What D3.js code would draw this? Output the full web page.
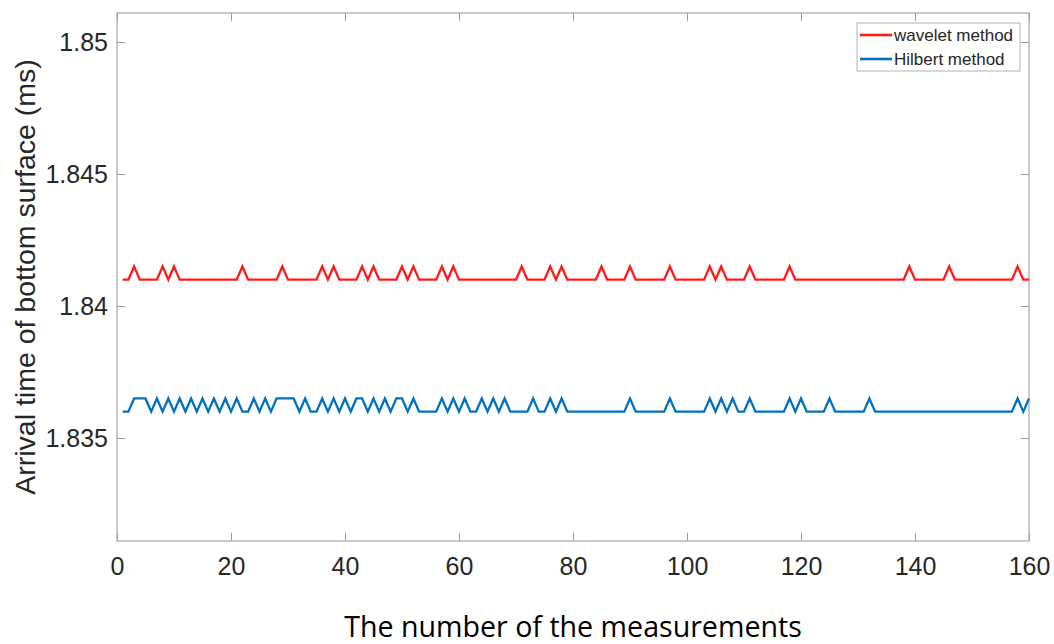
<!DOCTYPE html>
<html>
<head>
<meta charset="utf-8">
<script src="https://cdn.jsdelivr.net/npm/d3@7"></script>
<style>
  body { margin: 0; background: #fff; }
  svg { display: block; }
  .tick text { font-family: "Liberation Sans", Arial, sans-serif; font-size: 25px; fill: #262626; }
</style>
</head>
<body>
<svg id="chart" width="1054" height="644"></svg>
<script>
var svgWidth = 1054;
var svgHeight = 644;

// measurement index 1..160
var measurements = d3.range(1, 161);

// arrival time (ms), wavelet method
var wavelet = [
  1.841, 1.841, 1.8415, 1.841, 1.841, 1.841, 1.841, 1.8415, 1.841, 1.8415,
  1.841, 1.841, 1.841, 1.841, 1.841, 1.841, 1.841, 1.841, 1.841, 1.841,
  1.841, 1.8415, 1.841, 1.841, 1.841, 1.841, 1.841, 1.841, 1.8415, 1.841,
  1.841, 1.841, 1.841, 1.841, 1.841, 1.8415, 1.841, 1.8415, 1.841, 1.841,
  1.841, 1.841, 1.8415, 1.841, 1.8415, 1.841, 1.841, 1.841, 1.841, 1.8415,
  1.841, 1.8415, 1.841, 1.841, 1.841, 1.841, 1.8415, 1.841, 1.8415, 1.841,
  1.841, 1.841, 1.841, 1.841, 1.841, 1.841, 1.841, 1.841, 1.841, 1.841,
  1.8415, 1.841, 1.841, 1.841, 1.841, 1.8415, 1.841, 1.8415, 1.841, 1.841,
  1.841, 1.841, 1.841, 1.841, 1.8415, 1.841, 1.841, 1.841, 1.841, 1.8415,
  1.841, 1.841, 1.841, 1.841, 1.841, 1.841, 1.8415, 1.841, 1.841, 1.841,
  1.841, 1.841, 1.841, 1.8415, 1.841, 1.8415, 1.841, 1.841, 1.841, 1.841,
  1.8415, 1.841, 1.841, 1.841, 1.841, 1.841, 1.841, 1.8415, 1.841, 1.841,
  1.841, 1.841, 1.841, 1.841, 1.841, 1.841, 1.841, 1.841, 1.841, 1.841,
  1.841, 1.841, 1.841, 1.841, 1.841, 1.841, 1.841, 1.841, 1.8415, 1.841,
  1.841, 1.841, 1.841, 1.841, 1.841, 1.8415, 1.841, 1.841, 1.841, 1.841,
  1.841, 1.841, 1.841, 1.841, 1.841, 1.841, 1.841, 1.8415, 1.841, 1.841
];

// arrival time (ms), Hilbert method
var hilbert = [
  1.836, 1.836, 1.8365, 1.8365, 1.8365, 1.836, 1.8365, 1.836, 1.8365, 1.836,
  1.8365, 1.836, 1.8365, 1.836, 1.8365, 1.836, 1.8365, 1.836, 1.8365, 1.836,
  1.8365, 1.836, 1.836, 1.8365, 1.836, 1.8365, 1.836, 1.8365, 1.8365, 1.8365,
  1.8365, 1.836, 1.8365, 1.836, 1.836, 1.8365, 1.836, 1.8365, 1.836, 1.8365,
  1.836, 1.8365, 1.8365, 1.836, 1.8365, 1.836, 1.8365, 1.836, 1.8365, 1.8365,
  1.836, 1.8365, 1.836, 1.836, 1.836, 1.836, 1.8365, 1.836, 1.8365, 1.836,
  1.8365, 1.836, 1.836, 1.8365, 1.836, 1.8365, 1.836, 1.8365, 1.836, 1.836,
  1.836, 1.836, 1.8365, 1.836, 1.836, 1.8365, 1.836, 1.8365, 1.836, 1.836,
  1.836, 1.836, 1.836, 1.836, 1.836, 1.836, 1.836, 1.836, 1.836, 1.8365,
  1.836, 1.836, 1.836, 1.836, 1.836, 1.836, 1.8365, 1.836, 1.836, 1.836,
  1.836, 1.836, 1.836, 1.8365, 1.836, 1.8365, 1.836, 1.8365, 1.836, 1.836,
  1.8365, 1.836, 1.836, 1.836, 1.836, 1.836, 1.836, 1.8365, 1.836, 1.8365,
  1.836, 1.836, 1.836, 1.836, 1.8365, 1.836, 1.836, 1.836, 1.836, 1.836,
  1.836, 1.8365, 1.836, 1.836, 1.836, 1.836, 1.836, 1.836, 1.836, 1.836,
  1.836, 1.836, 1.836, 1.836, 1.836, 1.836, 1.836, 1.836, 1.836, 1.836,
  1.836, 1.836, 1.836, 1.836, 1.836, 1.836, 1.836, 1.8365, 1.836, 1.8365
];

var xTicks = [0, 20, 40, 60, 80, 100, 120, 140, 160];
var yTicks = [1.835, 1.84, 1.845, 1.85];

var seriesNames = ["wavelet method", "Hilbert method"];
var seriesColors = ["#ff1a1a", "#0072bd"];

// plot box
var plotLeft = 117, plotRight = 1029, plotTop = 13, plotBottom = 541;

var svg = d3.select("#chart");
svg.append("rect").attr("width", svgWidth).attr("height", svgHeight).attr("fill", "#fff");

var x = d3.scaleLinear().domain([0, 160]).range([plotLeft, plotRight]);
var y = d3.scaleLinear().domain([1.8311, 1.8511]).range([plotBottom, plotTop]);

// axes, ticks pointing inward
svg.append("g")
  .attr("transform", "translate(0," + plotBottom + ")")
  .call(d3.axisBottom(x).tickValues(xTicks).tickSizeInner(-8).tickSizeOuter(0).tickPadding(16))
  .call(function(g){ g.select(".domain").remove(); });

svg.append("g")
  .attr("transform", "translate(0," + plotTop + ")")
  .call(d3.axisTop(x).tickValues(xTicks).tickSizeInner(-8).tickSizeOuter(0).tickFormat(""))
  .call(function(g){ g.select(".domain").remove(); });

svg.append("g")
  .attr("transform", "translate(" + plotLeft + ",0)")
  .call(d3.axisLeft(y).tickValues(yTicks).tickSizeInner(-8).tickSizeOuter(0).tickPadding(9)
    .tickFormat(function(d){ return String(+d.toFixed(3)); }))
  .call(function(g){ g.select(".domain").remove(); });

svg.append("g")
  .attr("transform", "translate(" + plotRight + ",0)")
  .call(d3.axisRight(y).tickValues(yTicks).tickSizeInner(-8).tickSizeOuter(0).tickFormat(""))
  .call(function(g){ g.select(".domain").remove(); });

svg.selectAll(".tick line").attr("stroke", "#9a9a9a");

svg.append("rect")
  .attr("x", plotLeft).attr("y", plotTop)
  .attr("width", plotRight - plotLeft).attr("height", plotBottom - plotTop)
  .attr("fill", "none")
  .attr("stroke", "#a6a6a6")
  .attr("stroke-width", 1.2);

// lines
var line = d3.line()
  .x(function(d, i){ return x(measurements[i]); })
  .y(function(d){ return y(d); });

[wavelet, hilbert].forEach(function(data, k){
  svg.append("path")
    .datum(data)
    .attr("d", line)
    .attr("fill", "none")
    .attr("stroke", seriesColors[k])
    .attr("stroke-width", 2.3)
    .attr("stroke-linejoin", "miter");
});

// legend
var legend = svg.append("g").attr("transform", "translate(857,23)");
legend.append("rect")
  .attr("width", 163).attr("height", 48)
  .attr("fill", "#fff")
  .attr("stroke", "#b3b3b3");
seriesNames.forEach(function(name, k){
  var ly = 12 + k * 24;
  legend.append("line")
    .attr("x1", 3).attr("x2", 35)
    .attr("y1", ly).attr("y2", ly)
    .attr("stroke", seriesColors[k])
    .attr("stroke-width", 2.6);
  legend.append("text")
    .attr("x", 37).attr("y", ly + 6)
    .attr("font-family", "Liberation Sans, Arial, sans-serif")
    .attr("font-size", 17)
    .attr("fill", "#262626")
    .text(name);
});

// axis labels
svg.append("text")
  .attr("x", (plotLeft + plotRight) / 2).attr("y", 637)
  .attr("text-anchor", "middle")
  .attr("font-family", "Open Sans, sans-serif")
  .attr("font-size", 28.6)
  .attr("fill", "#000")
  .text("The number of the measurements");

svg.append("text")
  .attr("transform", "translate(35," + ((plotTop + plotBottom) / 2) + ") rotate(-90)")
  .attr("text-anchor", "middle")
  .attr("font-family", "Liberation Sans, Arial, sans-serif")
  .attr("font-size", 28.5)
  .attr("fill", "#262626")
  .text("Arrival time of bottom surface (ms)");
</script>
</body>
</html>
